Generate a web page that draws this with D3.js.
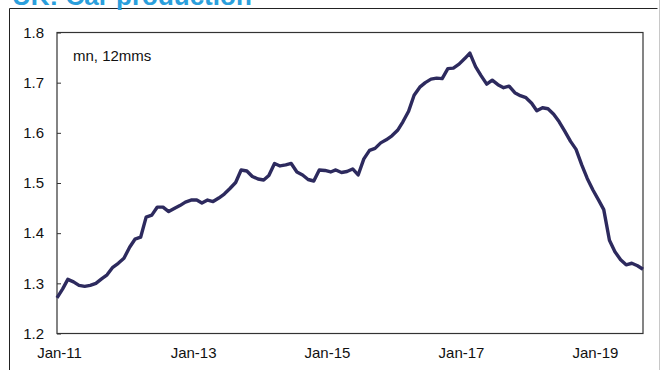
<!DOCTYPE html>
<html>
<head>
<meta charset="utf-8">
<script src="https://cdn.jsdelivr.net/npm/d3@7"></script>
<style>
  body { margin: 0; background: #fff; }
  svg { display: block; font-family: "Liberation Sans", Arial, sans-serif; }
</style>
</head>
<body>
<div id="chart"></div>
<script>
// ---- data ----
const title = "UK: Car production";
const unitLabel = "mn, 12mms";
const firstMonth = "2011-01";   // monthly series, 12 month sum (mn)
const production = [
  1.271, 1.289, 1.308, 1.303, 1.296, 1.294, 1.296, 1.300, 1.309, 1.317,
  1.332, 1.340, 1.350, 1.372, 1.388, 1.392, 1.432, 1.436, 1.452, 1.452,
  1.443, 1.449, 1.455, 1.462, 1.466, 1.466, 1.460, 1.466, 1.463, 1.470,
  1.478, 1.489, 1.501, 1.526, 1.524, 1.513, 1.508, 1.506, 1.515, 1.539,
  1.534, 1.536, 1.539, 1.522, 1.516, 1.507, 1.504, 1.526, 1.525, 1.522,
  1.526, 1.521, 1.523, 1.528, 1.516, 1.548, 1.565, 1.569, 1.580, 1.586,
  1.594, 1.605, 1.622, 1.643, 1.675, 1.691, 1.700, 1.707, 1.709, 1.708,
  1.728, 1.729, 1.737, 1.748, 1.759, 1.732, 1.714, 1.697, 1.705, 1.696,
  1.690, 1.693, 1.680, 1.674, 1.670, 1.659, 1.644, 1.650, 1.648, 1.637,
  1.622, 1.603, 1.583, 1.567, 1.536, 1.509, 1.486, 1.466, 1.447, 1.386,
  1.363, 1.347, 1.337, 1.340, 1.335, 1.328
];
const xTicks = ["2011-01", "2013-01", "2015-01", "2017-01", "2019-01"];
const yTicks = [1.2, 1.3, 1.4, 1.5, 1.6, 1.7, 1.8];

// ---- layout ----
const width = 664, height = 370;
const plot = { left: 57, right: 643, top: 32.5, bottom: 333.5 };
const lineColor = "#2d2a5e";
const titleColor = "#2b9fdc";

const parseMonth = d3.timeParse("%Y-%m");
const start = parseMonth(firstMonth);
const data = production.map((v, i) => ({ date: d3.timeMonth.offset(start, i), value: v }));

const x = d3.scaleTime()
  .domain(d3.extent(data, d => d.date))
  .range([plot.left, plot.right]);
const y = d3.scaleLinear()
  .domain([1.2, 1.8])
  .range([plot.bottom, plot.top]);

const svg = d3.select("#chart").append("svg")
  .attr("width", width).attr("height", height);

// outer frame (title box)
svg.append("path")
  .attr("d", `M9.5,${height} V8.5 H657.5`)
  .attr("fill", "none").attr("stroke", "#222").attr("stroke-width", 1);
svg.append("line")
  .attr("x1", 659.5).attr("x2", 659.5).attr("y1", 0).attr("y2", height)
  .attr("stroke", "#c8c8c8").attr("stroke-width", 1);

// title, cut by the top edge as in the source
svg.append("text")
  .attr("x", 12).attr("y", 5)
  .attr("font-size", 26).attr("font-weight", "bold")
  .attr("fill", titleColor)
  .text(title);

// plot frame
svg.append("rect")
  .attr("x", plot.left).attr("y", plot.top)
  .attr("width", plot.right - plot.left).attr("height", plot.bottom - plot.top)
  .attr("fill", "none").attr("stroke", "#333").attr("stroke-width", 1.2);

// y axis : inward ticks
const yAxis = svg.append("g")
  .attr("transform", `translate(${plot.left},0)`)
  .call(d3.axisRight(y).tickValues(yTicks).tickSize(4).tickFormat(d3.format(".1f")));
yAxis.select(".domain").remove();
yAxis.selectAll("line").attr("stroke", "#333");
yAxis.selectAll("text")
  .attr("x", -13).attr("text-anchor", "end")
  .attr("font-size", 15).attr("fill", "#111")
  .attr("font-family", null);

// x axis : labels only
const xAxis = svg.append("g")
  .attr("transform", `translate(0,${plot.bottom})`)
  .call(d3.axisBottom(x).tickValues(xTicks.map(parseMonth)).tickSize(0)
    .tickFormat(d3.timeFormat("%b-%y")));
xAxis.select(".domain").remove();
xAxis.selectAll("text")
  .attr("dy", "1.45em").attr("dx", 2)
  .attr("font-size", 15).attr("fill", "#111")
  .attr("font-family", null);

// unit label
svg.append("text")
  .attr("x", plot.left + 16).attr("y", plot.top + 28)
  .attr("font-size", 15).attr("fill", "#111")
  .text(unitLabel);

// series
svg.append("path")
  .datum(data)
  .attr("fill", "none")
  .attr("stroke", lineColor)
  .attr("stroke-width", 3.4)
  .attr("stroke-linejoin", "round")
  .attr("d", d3.line().x(d => x(d.date)).y(d => y(d.value)));
</script>
</body>
</html>
